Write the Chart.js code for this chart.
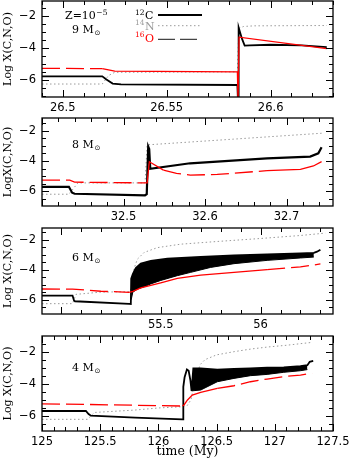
<!DOCTYPE html>
<html>
<head>
<meta charset="utf-8">
<script src="https://cdn.jsdelivr.net/npm/chart.js@4.4.0/dist/chart.umd.min.js"></script>
<style>
  body { margin: 0; background: #fff; width: 349px; height: 464px; position: relative; overflow: hidden; }
  canvas { position: absolute; left: 0; }
</style>
</head>
<body>
<canvas id="p1" width="349" height="117" style="top:0px"></canvas>
<canvas id="p2" width="349" height="109" style="top:117px"></canvas>
<canvas id="p3" width="349" height="108" style="top:226px"></canvas>
<canvas id="p4" width="349" height="130" style="top:334px"></canvas>
<script>
// --- 9 Msun ---
const c9 = [[26.49,-5.75],[26.519,-5.75],[26.521,-5.95],[26.524,-6.2],[26.528,-6.25],[26.584,-6.29],[26.5843,-7.3],[26.5846,-2.7],[26.5862,-3.4],[26.5875,-3.83],[26.59,-3.82],[26.6,-3.78],[26.615,-3.82],[26.627,-3.93]];
const n9 = [[26.49,-6.23],[26.519,-6.23],[26.522,-5.7],[26.525,-5.5],[26.584,-5.47],[26.5847,-2.75],[26.587,-2.64],[26.592,-2.6],[26.627,-2.58]];
const o9 = [[26.49,-5.25],[26.519,-5.27],[26.525,-5.43],[26.584,-5.47],[26.5843,-7.3],[26.5848,-3.31],[26.627,-4.02]];
const xTicks9 = [26.5, 26.55, 26.6];

// --- 8 Msun ---
const c8 = [[32.4,-5.71],[32.433,-5.71],[32.437,-6.1],[32.44,-6.17],[32.5264,-6.27],[32.5285,-6.2],[32.5303,-3.04],[32.5315,-3.2],[32.5328,-4.52],[32.5817,-4.15],[32.676,-3.82],[32.729,-3.71],[32.739,-3.49],[32.743,-3.09]];
const n8 = [[32.4,-6.2],[32.433,-6.2],[32.444,-5.45],[32.5264,-5.45],[32.529,-2.93],[32.635,-2.55],[32.743,-2.16]];
const o8 = [[32.4,-5.27],[32.434,-5.27],[32.44,-5.4],[32.5264,-5.45],[32.529,-5.45],[32.5317,-4.05],[32.549,-4.6],[32.565,-4.82],[32.582,-4.93],[32.615,-4.89],[32.676,-4.64],[32.717,-4.55],[32.733,-4.33],[32.743,-4.04]];
const xTicks8 = [32.5, 32.6, 32.7];

// --- 6 Msun (C band: upper and lower edge of the pulses) ---
const c6 = [[54.905,-5.73],[55.058,-5.73],[55.065,-6.05],[55.07,-6.11],[55.342,-6.29],[55.35,-6.3],[55.352,-4.6],[55.36,-4.3],[55.375,-3.9],[55.4,-3.6],[55.45,-3.42],[55.533,-3.27],[55.7,-3.15],[55.867,-3.05],[56.033,-2.98],[56.2,-2.92],[56.267,-2.88],[56.283,-2.8],[56.3,-2.67]];
const c6lo = [[55.352,-6.0],[55.36,-5.5],[55.383,-5.3],[55.417,-5.14],[55.45,-4.95],[55.5,-4.72],[55.583,-4.4],[55.65,-4.18],[55.75,-3.85],[55.867,-3.6],[56.033,-3.38],[56.2,-3.22],[56.267,-3.16]];
const n6 = [[54.905,-6.27],[55.058,-6.27],[55.075,-5.65],[55.2,-5.5],[55.342,-5.47],[55.355,-5.2],[55.36,-4.5],[55.367,-3.9],[55.383,-3.3],[55.417,-2.85],[55.483,-2.53],[55.6,-2.3],[55.783,-2.12],[56.0,-1.92],[56.2,-1.72],[56.325,-1.56]];
const o6 = [[54.905,-5.29],[55.058,-5.3],[55.2,-5.44],[55.342,-5.51],[55.36,-5.45],[55.4,-5.22],[55.45,-5.05],[55.5,-4.88],[55.583,-4.58],[55.7,-4.36],[55.867,-4.18],[56.033,-4.0],[56.2,-3.82],[56.3,-3.62]];
const xTicks6 = [55.5, 56];

// --- 4 Msun ---
const c4 = [[125,-5.71],[125.377,-5.71],[125.4,-5.9],[125.42,-6.0],[125.8,-6.12],[126.206,-6.23],[126.212,-6.23],[126.214,-4.2],[126.225,-3.6],[126.245,-3.12],[126.26,-3.2],[126.275,-3.8],[126.285,-4.45],[126.3,-3.05],[126.363,-3.04],[126.506,-3.12],[126.649,-3.08],[126.791,-3.04],[126.934,-3.0],[127.077,-2.98],[127.22,-2.9],[127.28,-2.85],[127.3,-2.63],[127.33,-2.58]];
const c4lo = [[126.285,-4.45],[126.363,-4.4],[126.506,-3.88],[126.649,-3.67],[126.791,-3.5],[126.934,-3.42],[127.077,-3.29],[127.22,-3.19],[127.28,-3.12]];
const n4 = [[125,-6.23],[125.39,-6.23],[125.45,-5.8],[125.8,-5.65],[126.0,-5.52],[126.21,-5.44],[126.25,-5.35],[126.28,-5.0],[126.3,-4.3],[126.33,-3.4],[126.36,-2.8],[126.4,-2.5],[126.5,-2.2],[126.65,-2.0],[126.8,-1.83],[126.95,-1.7],[127.1,-1.6],[127.22,-1.5],[127.32,-1.42]];
const o4 = [[125,-5.27],[125.4,-5.3],[126.206,-5.4],[126.22,-5.33],[126.25,-5.02],[126.291,-4.71],[126.363,-4.54],[126.506,-4.29],[126.649,-4.13],[126.791,-3.88],[126.934,-3.71],[127.077,-3.56],[127.22,-3.46],[127.32,-3.35]];
const xTicks4 = [125, 125.5, 126, 126.5, 127, 127.5];

const yTicks = [-2, -4, -6];
const masses = ['9', '8', '6', '4'];

const SANS = 'DejaVu Sans';
const SERIF = 'DejaVu Serif';
const RED = '#ff0000';
const GREY = '#9a9a9a';

// sub/superscript helpers
function isoText(ctx, mass, el, x, y, color) {
  ctx.fillStyle = color;
  ctx.font = '7.5px "' + SERIF + '"';
  ctx.fillText(mass, x, y - 4.5);
  const w = ctx.measureText(mass).width;
  ctx.font = '11px "' + SERIF + '"';
  ctx.fillText(el, x + w + 0.5, y);
}
function massText(ctx, m, x, y) {
  ctx.fillStyle = '#000';
  ctx.font = '11px "' + SERIF + '"';
  const s = m + ' M';
  ctx.fillText(s, x, y);
  const w = ctx.measureText(s).width;
  ctx.font = '7px "' + SANS + '"';
  ctx.fillText('\u2299', x + w + 0.8, y + 2.2);
}

// frame + inward ticks on all four sides
const framePlugin = {
  id: 'frame',
  afterDatasetsDraw(chart, args, o) {
    const { ctx, chartArea: a, scales: { x, y } } = chart;
    ctx.save();
    ctx.strokeStyle = '#000';
    ctx.lineWidth = 1;
    ctx.beginPath();
    const eps = 1e-6;
    for (let i = Math.ceil(x.min / o.xMinor - eps); i * o.xMinor <= x.max + eps; i++) {
      const v = i * o.xMinor;
      const major = Math.abs(v / o.xMajor - Math.round(v / o.xMajor)) < 1e-4;
      const len = major ? 7 : 4;
      const px = Math.round(x.getPixelForValue(v)) + 0.5;
      ctx.moveTo(px, a.bottom); ctx.lineTo(px, a.bottom - len);
      ctx.moveTo(px, a.top); ctx.lineTo(px, a.top + len);
    }
    for (let i = Math.ceil(y.min / 0.5 - eps); i * 0.5 <= y.max + eps; i++) {
      const v = i * 0.5;
      const major = yTicks.includes(v);
      const len = major ? 7 : 4;
      const py = Math.round(y.getPixelForValue(v)) + 0.5;
      ctx.moveTo(a.left, py); ctx.lineTo(a.left + len, py);
      ctx.moveTo(a.right, py); ctx.lineTo(a.right - len, py);
    }
    ctx.stroke();
    ctx.lineWidth = 1.3;
    ctx.strokeRect(a.left, a.top, a.width, a.height);

    // panel label
    massText(ctx, o.mass, a.left + 30, a.top + o.labelDy);
    if (o.legend) {
      ctx.font = '11px "' + SERIF + '"';
      ctx.fillStyle = '#000';
      ctx.fillText('Z=10', a.left + 23, a.top + 18.3);
      const w = ctx.measureText('Z=10').width;
      ctx.font = '7.5px "' + SERIF + '"';
      ctx.fillText('\u22125', a.left + 23 + w + 0.5, a.top + 13.5);

      isoText(ctx, '12', 'C', 135, 19, '#000');
      isoText(ctx, '14', 'N', 135, 29.5, GREY);
      isoText(ctx, '16', 'O', 135, 41.5, RED);
      ctx.lineWidth = 1.8; ctx.strokeStyle = '#000'; ctx.setLineDash([]);
      ctx.beginPath(); ctx.moveTo(158, 15); ctx.lineTo(202, 15); ctx.stroke();
      ctx.lineWidth = 1; ctx.strokeStyle = GREY; ctx.setLineDash([1.5, 2.5]);
      ctx.beginPath(); ctx.moveTo(158, 25.7); ctx.lineTo(202, 25.7); ctx.stroke();
      ctx.lineWidth = 1.3; ctx.strokeStyle = '#444'; ctx.setLineDash([17, 5]);
      ctx.beginPath(); ctx.moveTo(158, 39.3); ctx.lineTo(202, 39.3); ctx.stroke();
    }
    ctx.restore();
  }
};

function inRanges(v, ranges) {
  return ranges.some(r => v >= r[0] && v < r[1]);
}

function makePanel(id, p) {
  const datasets = [
    {
      label: '16O', data: p.o, borderColor: RED, borderWidth: 1.3,
      segment: { borderDash: ctx => inRanges(ctx.p0.parsed.x, p.oSolid) ? undefined : [18, 6] }
    },
    { label: '12C', data: p.c, borderColor: '#000', borderWidth: p.cw }
  ];
  if (p.cLow) {
    datasets.push({ label: '12C low', data: p.cLow, borderColor: '#000', borderWidth: 1,
      fill: '-1', backgroundColor: '#000' });
  }
  datasets.push({ label: '14N', data: p.n, borderColor: GREY, borderWidth: 1, borderDash: [1.5, 2.5] });

  new Chart(document.getElementById(id), {
    type: 'line',
    data: { datasets },
    options: {
      responsive: false,
      animation: false,
      elements: { point: { radius: 0 }, line: { tension: 0 } },
      layout: { padding: { top: p.padTop, right: 16, left: 0, bottom: 0 } },
      plugins: {
        legend: { display: false },
        tooltip: { enabled: false },
        frame: { xMinor: p.xMinor, xMajor: p.xMajor, mass: p.mass, labelDy: p.labelDy, legend: p.legend }
      },
      scales: {
        x: {
          type: 'linear', min: p.xr[0], max: p.xr[1],
          grid: { display: false, drawTicks: false }, border: { display: false },
          ticks: { padding: 4, color: '#000', font: { family: SANS, size: 11.5 }, autoSkip: false, maxRotation: 0,
            callback: v => String(v) },
          afterBuildTicks: s => { s.ticks = p.xt.map(v => ({ value: v })); },
          afterFit: s => { s.height = p.axisH; s.paddingLeft = 0; s.paddingRight = 0; },
          title: p.xTitle ? { display: true, text: p.xTitle, color: '#000',
            font: { family: SERIF, size: 12.5 }, padding: { top: 0, bottom: 4.5 } } : { display: false }
        },
        y: {
          type: 'linear', min: p.yr[0], max: p.yr[1],
          grid: { display: false, drawTicks: false }, border: { display: false },
          ticks: { padding: 6, color: '#000', font: { family: SANS, size: 11.5 },
            callback: v => (v < 0 ? '\u2212' : '') + Math.abs(v) },
          afterBuildTicks: s => { s.ticks = yTicks.map(v => ({ value: v })); },
          afterFit: s => { s.width = 42; s.paddingTop = 0; s.paddingBottom = 0; },
          title: { display: true, text: p.yTitle, color: '#000',
            font: { family: SERIF, size: 11 }, padding: { top: 1.5, bottom: 0 } }
        }
      }
    },
    plugins: [framePlugin]
  });
}

makePanel('p1', { c: c9, n: n9, o: o9, xr: [26.49, 26.63], yr: [-7.04, -1.05], xt: xTicks9,
  xMinor: 0.01, xMajor: 0.05, oSolid: [[26.5835, 26.6], [26.519, 26.526]], cw: 1.8,
  padTop: 1, axisH: 20, mass: masses[0], labelDy: 31.7, legend: true, yTitle: 'Log X(C,N,O)' });
makePanel('p2', { c: c8, n: n8, o: o8, xr: [32.4, 32.757], yr: [-6.98, -1.15], xt: xTicks8,
  xMinor: 0.02, xMajor: 0.1, oSolid: [[32.52, 32.546], [32.63, 32.8]], cw: 2.2,
  padTop: 1, axisH: 20, mass: masses[1], labelDy: 30, legend: false, yTitle: 'LogX(C,N,O)' });
makePanel('p3', { c: c6, cLow: c6lo, n: n6, o: o6, xr: [54.905, 56.363], yr: [-6.96, -1.22], xt: xTicks6,
  xMinor: 0.1, xMajor: 0.5, oSolid: [[55.34, 55.9]], cw: 1.8,
  padTop: 2, axisH: 20, mass: masses[2], labelDy: 33, legend: false, yTitle: 'Log X(C,N,O)' });
makePanel('p4', { c: c4, cLow: c4lo, n: n4, o: o4, xr: [125, 127.5], yr: [-6.96, -1.02], xt: xTicks4,
  xMinor: 0.1, xMajor: 0.5, oSolid: [[126.2, 126.4]], cw: 1.8,
  padTop: 2, axisH: 33, mass: masses[3], labelDy: 35, legend: false, yTitle: 'Log X(C,N,O)',
  xTitle: 'time (My)' });
</script>
</body>
</html>
